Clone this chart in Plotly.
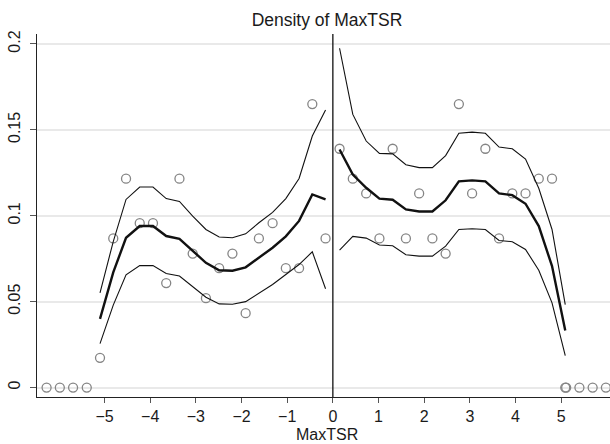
import plotly.graph_objects as go

# Histogram-bin points (circles)
bin_x = [-6.27, -5.98, -5.69, -5.39, -5.10, -4.81, -4.53, -4.23, -3.94, -3.65, -3.36,
         -3.07, -2.78, -2.49, -2.20, -1.91, -1.62, -1.32, -1.03, -0.74, -0.45, -0.16,
         0.147, 0.437, 0.73, 1.02, 1.31, 1.60, 1.89, 2.18, 2.47, 2.76, 3.05, 3.34,
         3.64, 3.93, 4.22, 4.51, 4.80, 5.09, 5.11, 5.40, 5.69, 5.98]
bin_density = [0, 0, 0, 0, 0.0173, 0.0868, 0.1216, 0.0957, 0.0957, 0.0608, 0.1216,
               0.078, 0.052, 0.0695, 0.078, 0.0433, 0.0868, 0.0957, 0.0695, 0.0695, 0.165, 0.0868,
               0.139, 0.1216, 0.113, 0.0868, 0.139, 0.0868, 0.113, 0.0868, 0.078, 0.165, 0.113, 0.139,
               0.0868, 0.113, 0.113, 0.1216, 0.1216, 0, 0, 0, 0, 0]

# Density estimate with bands, left of zero
left_x = [-5.10, -4.81, -4.53, -4.23, -3.94, -3.65, -3.36, -3.07, -2.78, -2.49, -2.20,
          -1.91, -1.62, -1.32, -1.03, -0.74, -0.45, -0.16]
left_est = [0.040, 0.067, 0.0872, 0.094, 0.094, 0.0882, 0.0866, 0.0794, 0.0726, 0.0683, 0.068,
            0.070, 0.0755, 0.0814, 0.088, 0.097, 0.1124, 0.1095]
left_upper = [0.0551, 0.085, 0.1095, 0.1167, 0.1167, 0.110, 0.1083, 0.0998, 0.092, 0.0876, 0.0872,
              0.0895, 0.0959, 0.102, 0.110, 0.1217, 0.1464, 0.1616]
left_lower = [0.0256, 0.048, 0.0656, 0.071, 0.071, 0.0664, 0.0649, 0.0586, 0.0526, 0.0487, 0.0485,
              0.050, 0.0551, 0.060, 0.0658, 0.0716, 0.079, 0.0575]

# Right of zero
right_x = [0.147, 0.437, 0.73, 1.02, 1.31, 1.60, 1.89, 2.18, 2.47, 2.76, 3.05, 3.34,
           3.64, 3.93, 4.22, 4.51, 4.80, 5.09]
right_est = [0.1386, 0.124, 0.1163, 0.110, 0.1093, 0.1037, 0.1025, 0.1025, 0.109, 0.120, 0.1206, 0.120,
             0.113, 0.112, 0.107, 0.094, 0.0707, 0.0332]
right_upper = [0.1975, 0.159, 0.1435, 0.1363, 0.136, 0.1297, 0.128, 0.128, 0.135, 0.148, 0.1487, 0.148,
               0.140, 0.139, 0.133, 0.116, 0.092, 0.0483]
right_lower = [0.080, 0.088, 0.087, 0.083, 0.0825, 0.0773, 0.0765, 0.0765, 0.0823, 0.092, 0.0924, 0.092,
               0.0856, 0.0849, 0.0804, 0.0683, 0.0493, 0.0186]

x_ticks = [-5, -4, -3, -2, -1, 0, 1, 2, 3, 4, 5]
y_ticks = [0, 0.05, 0.1, 0.15, 0.2]
y_tick_text = ["0", "0.05", "0.1", "0.15", "0.2"]

FONT = "Liberation Sans, Arial, sans-serif"
TXT = "#1a1a1a"

fig = go.Figure()

fig.add_trace(go.Scatter(x=bin_x, y=bin_density, mode="markers",
                         marker=dict(symbol="circle-open", size=9, color="#858585",
                                     line=dict(width=1.3, color="#858585")),
                         showlegend=False, hoverinfo="skip"))

for xs, series in [(left_x, [(left_upper, 1.1), (left_lower, 1.1), (left_est, 2.4)]),
                   (right_x, [(right_upper, 1.1), (right_lower, 1.1), (right_est, 2.4)])]:
    for ys, w in series:
        fig.add_trace(go.Scatter(x=xs, y=ys, mode="lines",
                                 line=dict(color="#111111", width=w),
                                 showlegend=False, hoverinfo="skip"))

fig.add_shape(type="line", xref="x", yref="paper", x0=0, x1=0, y0=0, y1=1,
              line=dict(color="#111111", width=1.3))

fig.update_layout(
    width=610, height=444,
    margin=dict(l=37, r=0, t=34, b=47),
    paper_bgcolor="white", plot_bgcolor="white",
    font=dict(family=FONT, size=16, color=TXT),
    title=dict(text="Density of MaxTSR", x=327 / 610, xanchor="center",
               y=1 - 20 / 444, yanchor="middle", yref="container",
               font=dict(family=FONT, size=17.5, color=TXT)),
    xaxis=dict(range=[-6.48, 6.07], tickvals=x_ticks, showgrid=False, zeroline=False,
               showline=True, linecolor="#222222", linewidth=1.3,
               ticks="outside", ticklen=5, tickcolor="#555555", tickwidth=1.2,
               tickfont=dict(family=FONT, size=16, color=TXT)),
    yaxis=dict(range=[-0.0055, 0.2058], tickvals=y_ticks, ticktext=y_tick_text,
               showgrid=True, gridcolor="#e9e9e9", gridwidth=1.6, zeroline=False,
               showline=True, linecolor="#222222", linewidth=1.3,
               ticks="outside", ticklen=6, tickcolor="#555555", tickwidth=1.2, tickangle=-90,
               ticklabelstandoff=3,
               tickfont=dict(family=FONT, size=16, color=TXT)),
    annotations=[dict(text="MaxTSR", xref="paper", yref="paper", x=(327 - 37) / 573,
                      y=(397 - 434) / 363, xanchor="center", yanchor="middle", showarrow=False,
                      borderpad=0, font=dict(family=FONT, size=16, color=TXT))],
)

fig.write_html("out.html", config={"displayModeBar": False},
               post_script="document.body.style.margin='0';document.body.style.overflow='hidden';")
